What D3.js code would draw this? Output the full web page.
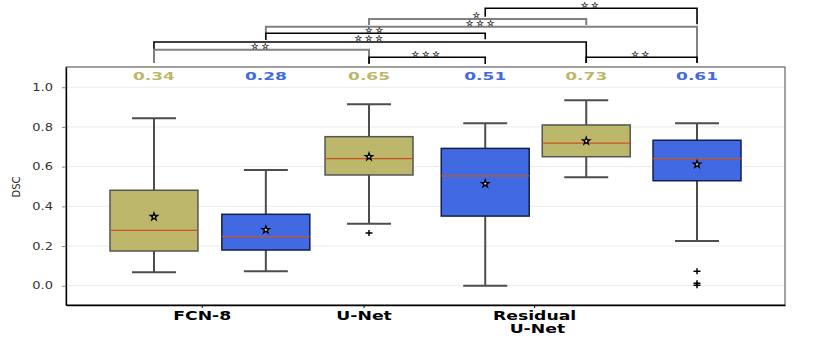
<!DOCTYPE html>
<html>
  <head>
    <script src="https://cdn.jsdelivr.net/npm/d3@7/dist/d3.min.js"></script>
    <style>
      body { margin: 0; background: #fff; }
      text { font-family: "DejaVu Sans", sans-serif; }
    </style>
  </head>
  <body>
    <svg width="822" height="338"></svg>
    <script>
      // box stats: [whiskerLow, q1, median, q3, whiskerHigh]
      const boxNames = ["FCN-8 a", "FCN-8 b", "U-Net a", "U-Net b", "Residual a", "Residual b"];
      const boxSlots = [1.0, 2.03, 2.98, 4.05, 4.98, 6.0];
      const lowWhisker = [0.068, 0.073, 0.312, 0.0, 0.546, 0.225];
      const q1 = [0.175, 0.18, 0.558, 0.351, 0.65, 0.529];
      const median = [0.279, 0.247, 0.64, 0.554, 0.718, 0.64];
      const q3 = [0.481, 0.36, 0.751, 0.692, 0.81, 0.733];
      const highWhisker = [0.844, 0.583, 0.914, 0.819, 0.934, 0.819];
      const means = [0.348, 0.282, 0.65, 0.514, 0.729, 0.612];
      const meanLabels = ["0.34", "0.28", "0.65", "0.51", "0.73", "0.61"];
      const outliers = [[], [], [0.266], [], [], [0.073, 0.012, 0.002]];
      const boxKind = ["gold", "blue", "gold", "blue", "gold", "blue"];

      const tickSlots = [1.44, 2.93, 4.5];
      const tickLabels = [["FCN-8"], ["U-Net"], ["Residual", "U-Net"]];
      const yTicks = [0, 0.2, 0.4, 0.6, 0.8, 1.0];

      // significance brackets between boxes (indices), stars, style
      const bracketPairs = [[3, 5], [2, 4], [1, 5], [1, 3], [0, 4], [0, 2], [2, 3], [4, 5]];
      const bracketStars = ["**", "*", "***", "**", "***", "**", "***", "**"];
      const bracketGray = [false, true, true, false, false, true, false, false];

      const fills = { gold: "#bdb76b", blue: "#4169e1" };
      const edges = { gold: "#555555", blue: "#14204a" };

      const svg = d3.select("svg");
      const margin = { left: 66, right: 37, top: 67, bottom: 33 };
      const width = 822 - margin.left - margin.right;
      const height = 338 - margin.top - margin.bottom;

      const x = d3.scaleLinear().domain([0.19, 6.81]).range([margin.left, margin.left + width]);
      const y = d3.scaleLinear().domain([-0.097, 1.102]).range([margin.top + height, margin.top]);
      const boxW = x(0.81) - x(0);

      // grid
      svg.append("g")
        .selectAll("line")
        .data(yTicks)
        .join("line")
          .attr("x1", margin.left)
          .attr("x2", margin.left + width)
          .attr("y1", d => y(d))
          .attr("y2", d => y(d))
          .attr("stroke", "#ebebeb")
          .attr("stroke-width", 1);

      // frame
      svg.append("rect")
        .attr("x", margin.left)
        .attr("y", margin.top)
        .attr("width", width)
        .attr("height", height)
        .attr("fill", "none")
        .attr("stroke", "#444")
        .attr("stroke-width", 1);

      const boxes = boxNames.map((name, i) => ({
        name, i,
        pos: boxSlots[i],
        lo: lowWhisker[i], q1: q1[i], med: median[i], q3: q3[i], hi: highWhisker[i],
        mean: means[i], label: meanLabels[i], out: outliers[i], kind: boxKind[i]
      }));

      const g = svg.append("g")
        .selectAll("g")
        .data(boxes)
        .join("g");

      const whiskerColor = "#4d4d4d";

      // whiskers
      g.append("line")
        .attr("x1", d => x(d.pos)).attr("x2", d => x(d.pos))
        .attr("y1", d => y(d.q3)).attr("y2", d => y(d.hi))
        .attr("stroke", whiskerColor).attr("stroke-width", 2);
      g.append("line")
        .attr("x1", d => x(d.pos)).attr("x2", d => x(d.pos))
        .attr("y1", d => y(d.q1)).attr("y2", d => y(d.lo))
        .attr("stroke", whiskerColor).attr("stroke-width", 2);
      // caps
      [d => d.hi, d => d.lo].forEach(acc => {
        g.append("line")
          .attr("x1", d => x(d.pos) - boxW / 4).attr("x2", d => x(d.pos) + boxW / 4)
          .attr("y1", d => y(acc(d))).attr("y2", d => y(acc(d)))
          .attr("stroke", whiskerColor).attr("stroke-width", 2);
      });

      // boxes
      g.append("rect")
        .attr("x", d => x(d.pos) - boxW / 2)
        .attr("y", d => y(d.q3))
        .attr("width", boxW)
        .attr("height", d => y(d.q1) - y(d.q3))
        .attr("fill", d => fills[d.kind])
        .attr("stroke", d => edges[d.kind])
        .attr("stroke-width", 1.5);

      // medians
      g.append("line")
        .attr("x1", d => x(d.pos) - boxW / 2).attr("x2", d => x(d.pos) + boxW / 2)
        .attr("y1", d => y(d.med)).attr("y2", d => y(d.med))
        .attr("stroke", "#c8561e").attr("stroke-width", 1.3);

      // means
      g.append("path")
        .attr("d", d3.symbol().type(d3.symbolStar).size(16))
        .attr("transform", d => `translate(${x(d.pos)},${y(d.mean)})`)
        .attr("fill", "#fff")
        .attr("stroke", "#000")
        .attr("stroke-width", 1.3);

      // outliers
      g.selectAll(".flier")
        .data(d => d.out.map(v => ({ pos: d.pos, v })))
        .join("path")
          .attr("class", "flier")
          .attr("d", "M-3.5,0H3.5M0,-3V3")
          .attr("transform", d => `translate(${x(d.pos)},${y(d.v)})`)
          .attr("stroke", "#000")
          .attr("stroke-width", 1.5);

      // mean labels at top
      g.append("text")
        .attr("transform", d => `translate(${x(d.pos)},${margin.top + 13}) scale(1.7,1)`)
        .attr("text-anchor", "middle")
        .attr("font-size", 10)
        .attr("font-weight", "bold")
        .attr("fill", d => fills[d.kind])
        .text(d => d.label);

      // y axis
      const yAxis = svg.append("g")
        .attr("transform", `translate(${margin.left},0)`)
        .call(d3.axisLeft(y).tickValues(yTicks).tickFormat(d3.format(".1f"))
          .tickSize(4).tickSizeOuter(0).tickPadding(8));
      yAxis.select(".domain").attr("stroke", "#000").attr("stroke-width", 1.3);
      yAxis.selectAll(".tick line").attr("stroke", "#888");
      yAxis.selectAll(".tick text")
        .attr("x", -10)
        .attr("transform", "scale(1.3,1)")
        .attr("font-size", 10)
        .attr("fill", "#333")
        .attr("font-family", "DejaVu Sans");

      svg.append("text")
        .attr("transform", `translate(20,187) rotate(-90)`)
        .attr("text-anchor", "middle")
        .attr("font-size", 10)
        .attr("font-family", "DejaVu Sans Condensed, DejaVu Sans")
        .attr("fill", "#222")
        .text("DSC");

      // x axis
      const xAxis = svg.append("g")
        .attr("transform", `translate(0,${margin.top + height})`)
        .call(d3.axisBottom(x).tickValues(tickSlots).tickFormat("").tickSize(3).tickSizeOuter(0));
      xAxis.select(".domain").attr("stroke", "#000").attr("stroke-width", 1.3);
      xAxis.selectAll(".tick")
        .append("text")
          .attr("transform", "translate(0,15) scale(1.38,1)")
          .attr("text-anchor", "middle")
          .attr("fill", "#000")
          .attr("font-size", 12.5)
          .attr("font-weight", "bold")
          .attr("font-family", "DejaVu Sans")
          .selectAll("tspan")
          .data((d, i) => tickLabels[i])
          .join("tspan")
            .attr("x", (d, j) => j === 0 ? 0 : 2)
            .attr("dy", (d, j) => j === 0 ? 0 : 13.5)
            .text(d => d);

      // significance brackets
      const bracketLevels = [8.3, 19, 26.7, 33.3, 42, 49.7, 57.3, 57.3];
      const bracketLegs = [[16.7, 24.3], [25, 25], [33.3, 63], [40, 39.3], [63, 63], [63, 63], [64, 64], [63, 63]];
      const brackets = bracketPairs.map((p, i) => ({
        a: boxSlots[p[0]], b: boxSlots[p[1]],
        stars: bracketStars[i], gray: bracketGray[i],
        yl: bracketLevels[i], legs: bracketLegs[i]
      }));
      const br = svg.append("g")
        .selectAll("g")
        .data(brackets)
        .join("g");
      br.append("path")
        .attr("d", d => `M${x(d.a)},${d.legs[0]}V${d.yl}H${x(d.b)}V${d.legs[1]}`)
        .attr("fill", "none")
        .attr("stroke", d => d.gray ? "#808080" : "#000")
        .attr("stroke-width", d => d.gray ? 2 : 1.6);
      br.append("text")
        .attr("x", d => (x(d.a) + x(d.b)) / 2)
        .attr("y", d => d.yl - 0.8)
        .attr("text-anchor", "middle")
        .attr("font-size", 8.5)
        .attr("letter-spacing", 2.8)
        .attr("fill", "#333")
        .attr("stroke", "#333")
        .attr("stroke-width", 0.3)
        .text(d => d.stars.replace(/\*/g, "\u2606"));
    </script>
  </body>
</html>
